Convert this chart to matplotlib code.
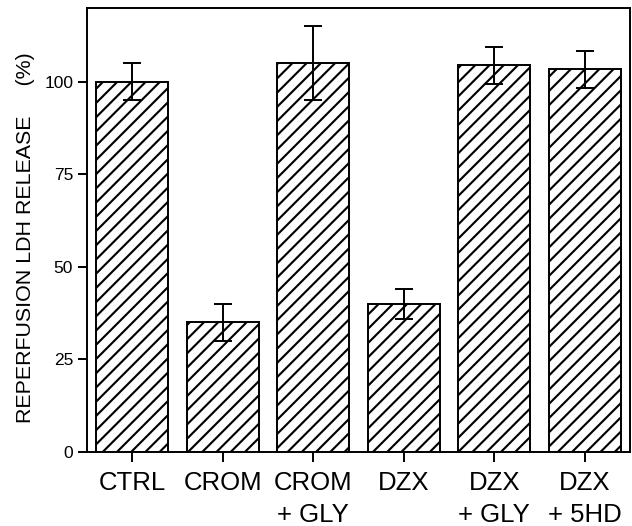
#!/usr/bin/env python
# -*- coding: utf-8 -*-

# reperfusion LDH release, hatched bar chart with error bars

import matplotlib
matplotlib.use('Agg')
import matplotlib.pyplot as plt
import numpy as np

# data
groups = ['CTRL', 'CROM', 'CROM\n+ GLY', 'DZX', 'DZX\n+ GLY', 'DZX\n+ 5HD']
ldh = [100, 35, 105, 40, 104.5, 103.5]
ldh_err = [5, 5, 10, 4, 5, 5]
yticks = [0, 25, 50, 75, 100]

# dpi 128 gives hatch spacing close to the scan
DPI = 128
plt.rcParams['font.family'] = ['Liberation Sans', 'DejaVu Sans']
plt.rcParams['hatch.linewidth'] = 1.2

fig = plt.figure(figsize=(632.0 / DPI, 526.0 / DPI), dpi=DPI)
ax = fig.add_axes([0.1377, 0.1407, 0.8591, 0.8441])

x = np.arange(len(groups))
ax.bar(x, ldh, width=0.8, color='white', edgecolor='black',
       linewidth=1.1, hatch='///', zorder=2)
ax.errorbar(x, ldh, yerr=ldh_err, fmt='none', ecolor='black',
            elinewidth=1.1, capsize=4.8, capthick=1.1, zorder=3)

ax.set_xlim(-0.5, 5.5)
ax.set_ylim(0, 120)

ax.set_yticks(yticks)
ax.set_yticklabels([str(v) for v in yticks], fontsize=9.8)
ax.set_xticks(x)
ax.set_xticklabels(groups, fontsize=14.5, linespacing=1.45)

ax.tick_params(axis='y', direction='out', length=5, width=1.1, pad=2.8)
ax.tick_params(axis='x', direction='out', length=5.6, width=1.1, pad=5)

for s in ax.spines.values():
    s.set_linewidth(1.1)

ax.set_ylabel('REPERFUSION LDH RELEASE     (%)', fontsize=12, labelpad=5)
ax.yaxis.label.set_y(0.483)

fig.savefig('out.png', dpi=DPI)
